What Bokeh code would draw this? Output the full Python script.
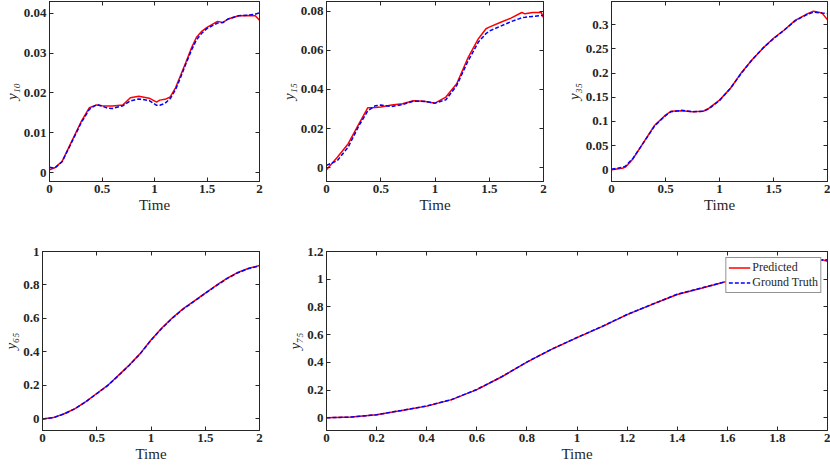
from bokeh.plotting import figure
from bokeh.models import Range1d, FixedTicker, NumeralTickFormatter, LinearAxis, Legend, LegendItem
from bokeh.layouts import row, column
from bokeh.embed import file_html
from bokeh.resources import INLINE

# ---------------- data ----------------
t1 = [0, 0.05, 0.12, 0.2, 0.3, 0.38, 0.45, 0.5, 0.55, 0.6, 0.7, 0.77, 0.85, 0.95, 1.02, 1.05, 1.1, 1.15,
      1.2, 1.25, 1.3, 1.35, 1.4, 1.45, 1.5, 1.6, 1.65, 1.7, 1.8, 1.9, 1.96, 2.0]
pred1 = [0.0007, 0.0012, 0.0028, 0.0072, 0.0127, 0.0163, 0.0170, 0.0168, 0.0167, 0.0167, 0.0170, 0.0188,
         0.0192, 0.0187, 0.0177, 0.0182, 0.0184, 0.0190, 0.0213, 0.0245, 0.0278, 0.0312, 0.0340, 0.0355,
         0.0365, 0.0380, 0.0377, 0.0386, 0.0394, 0.0395, 0.0394, 0.0383]
truth1 = [0.0013, 0.0011, 0.0027, 0.0070, 0.0124, 0.0159, 0.0171, 0.0167, 0.0162, 0.0161, 0.0168, 0.0180,
          0.0185, 0.0181, 0.0169, 0.0169, 0.0174, 0.0186, 0.0208, 0.0240, 0.0274, 0.0306, 0.0334, 0.0350,
          0.0362, 0.0376, 0.0377, 0.0386, 0.0394, 0.0396, 0.0398, 0.0402]

t2 = [0, 0.1, 0.2, 0.3, 0.38, 0.45, 0.5, 0.6, 0.7, 0.8, 0.9, 1.0, 1.1, 1.2, 1.3, 1.4, 1.47, 1.5, 1.6,
      1.7, 1.8, 1.83, 1.9, 1.98, 2.0]
pred2 = [-0.0010, 0.0054, 0.0123, 0.0225, 0.0306, 0.0308, 0.0310, 0.0320, 0.0327, 0.0342, 0.0340, 0.0330,
         0.0361, 0.0429, 0.0557, 0.0659, 0.0710, 0.0718, 0.0742, 0.0764, 0.0793, 0.0786, 0.0793, 0.0793,
         0.0766]
truth2 = [0.0012, 0.0037, 0.0106, 0.0216, 0.0290, 0.0317, 0.0320, 0.0313, 0.0323, 0.0340, 0.0339, 0.0330,
          0.0347, 0.0420, 0.0540, 0.0642, 0.0685, 0.0698, 0.0722, 0.0746, 0.0766, 0.0768, 0.0773, 0.0777,
          0.0778]

t3 = [0, 0.1, 0.13, 0.2, 0.3, 0.4, 0.5, 0.55, 0.65, 0.75, 0.85, 0.9, 1.0, 1.1, 1.2, 1.3, 1.4, 1.5, 1.6,
      1.7, 1.8, 1.87, 1.95, 2.0]
pred3 = [0.0, 0.003, 0.0055, 0.023, 0.0575, 0.092, 0.113, 0.121, 0.122, 0.120, 0.121, 0.127, 0.144,
         0.168, 0.200, 0.227, 0.251, 0.272, 0.289, 0.309, 0.321, 0.328, 0.324, 0.310]
truth3 = [0.001, 0.005, 0.0076, 0.024, 0.057, 0.091, 0.112, 0.120, 0.123, 0.120, 0.121, 0.126, 0.143,
          0.168, 0.199, 0.227, 0.251, 0.271, 0.289, 0.308, 0.320, 0.326, 0.324, 0.323]

t4 = [0, 0.1, 0.2, 0.3, 0.4, 0.5, 0.6, 0.7, 0.8, 0.9, 1.0, 1.1, 1.2, 1.3, 1.4, 1.5, 1.6, 1.7, 1.8, 1.9, 2.0]
pred4 = [0.0, 0.008, 0.031, 0.062, 0.104, 0.152, 0.200, 0.260, 0.322, 0.390, 0.472, 0.543, 0.606, 0.660,
         0.705, 0.752, 0.797, 0.840, 0.875, 0.900, 0.916]
truth4 = [0.0, 0.007, 0.030, 0.061, 0.103, 0.151, 0.199, 0.259, 0.321, 0.389, 0.470, 0.541, 0.604, 0.658,
          0.703, 0.750, 0.795, 0.838, 0.873, 0.898, 0.914]

t5 = [0, 0.1, 0.2, 0.3, 0.4, 0.5, 0.6, 0.7, 0.8, 0.9, 1.0, 1.1, 1.2, 1.3, 1.4, 1.5, 1.6, 1.7, 1.8, 1.9, 1.98, 2.0]
pred5 = [0.0, 0.005, 0.022, 0.053, 0.084, 0.131, 0.203, 0.296, 0.401, 0.495, 0.578, 0.658, 0.744, 0.818,
         0.890, 0.937, 0.985, 1.030, 1.070, 1.110, 1.140, 1.130]
truth5 = [0.0, 0.005, 0.022, 0.053, 0.085, 0.132, 0.204, 0.297, 0.402, 0.496, 0.579, 0.659, 0.745, 0.819,
          0.891, 0.938, 0.986, 1.031, 1.071, 1.111, 1.138, 1.140]

xticks_short = [0, 0.5, 1, 1.5, 2]
xticks_long = [0, 0.2, 0.4, 0.6, 0.8, 1, 1.2, 1.4, 1.6, 1.8, 2]
yticks1 = [0, 0.01, 0.02, 0.03, 0.04]
yticks2 = [0, 0.02, 0.04, 0.06, 0.08]
yticks3 = [0, 0.05, 0.1, 0.15, 0.2, 0.25, 0.3]
yticks4 = [0, 0.2, 0.4, 0.6, 0.8, 1]
yticks5 = [0, 0.2, 0.4, 0.6, 0.8, 1, 1.2]

ylabels = ["y\u2081\u2080", "y\u2081\u2085", "y\u2083\u2085", "y\u2086\u2085", "y\u2087\u2085"]
xlabel = "Time"
series_names = ["Predicted", "Ground Truth"]

# ---------------- style ----------------
AX = "#262626"
FONT = "Liberation Serif"


def style_main_axis(ax, ticks, label):
    ax.ticker = FixedTicker(ticks=ticks)
    ax.formatter = NumeralTickFormatter(format="0.[00]")
    ax.major_label_text_font = FONT
    ax.major_label_text_font_style = "bold"
    ax.major_label_text_font_size = "13px"
    ax.major_label_text_color = AX
    ax.axis_label = label
    ax.axis_label_text_font = FONT
    ax.axis_label_text_font_size = "15px"
    ax.axis_label_text_color = AX
    ax.axis_label_standoff = 1
    ax.major_label_standoff = 3
    ax.major_tick_in = 4
    ax.major_tick_out = 0
    ax.minor_tick_in = 0
    ax.minor_tick_out = 0
    ax.axis_line_color = AX
    ax.major_tick_line_color = AX


def mirror_axis(ticks):
    return LinearAxis(ticker=FixedTicker(ticks=ticks),
                      major_label_text_font_size="0px", major_label_text_color=None,
                      major_label_standoff=0, major_tick_in=4, major_tick_out=0,
                      minor_tick_in=0, minor_tick_out=0,
                      axis_line_color=AX, major_tick_line_color=AX)


def make(t, pred, truth, ylabel, xticks, yticks, yr, width, height, mbl, mbr, mbt, mbb, legend=False):
    p = figure(width=width, height=height, x_range=Range1d(0, 2), y_range=Range1d(*yr),
               output_backend="svg", toolbar_location=None,
               min_border_left=mbl, min_border_right=mbr, min_border_top=mbt, min_border_bottom=mbb)
    p.grid.visible = False
    p.outline_line_color = AX
    p.outline_line_alpha = 1
    p.background_fill_color = "white"
    p.border_fill_color = "white"
    style_main_axis(p.xaxis[0], xticks, xlabel)
    style_main_axis(p.yaxis[0], yticks, ylabel)
    p.yaxis[0].axis_label_text_font_style = "italic"
    p.xaxis[0].axis_label_text_font_style = "normal"
    p.add_layout(mirror_axis(xticks), "above")
    p.add_layout(mirror_axis(yticks), "right")
    r1 = p.line(t, pred, line_color="#ff0000", line_width=1.5)
    r2 = p.line(t, truth, line_color="#0000ff", line_width=1.5, line_dash="4 2")
    if legend:
        lg = Legend(items=[LegendItem(label=series_names[0], renderers=[r1]),
                           LegendItem(label=series_names[1], renderers=[r2])],
                    location="top_right")
        lg.border_line_color = AX
        lg.border_line_width = 1
        lg.background_fill_color = "white"
        lg.background_fill_alpha = 1
        lg.label_text_font = FONT
        lg.label_text_font_size = "12px"
        lg.label_text_color = AX
        lg.padding = 2
        lg.spacing = 0
        lg.margin = 6
        lg.glyph_width = 22
        lg.glyph_height = 13
        lg.label_height = 13
        lg.label_standoff = 2
        p.add_layout(lg)
    return p


TOP_H = 226
BOT_H = 240

f1 = make(t1, pred1, truth1, ylabels[0], xticks_short, yticks1, (-0.00226, 0.0430),
          269, TOP_H, 0, 10, 1, 45)
f2 = make(t2, pred2, truth2, ylabels[1], xticks_short, yticks2, (-0.0070, 0.0849),
          284, TOP_H, 57, 10, 1, 45)
f3 = make(t3, pred3, truth3, ylabels[2], xticks_short, yticks3, (-0.0243, 0.348),
          277, TOP_H, 58, 3, 1, 45)
f4 = make(t4, pred4, truth4, ylabels[3], xticks_short, yticks4, (-0.069, 1.0),
          269, BOT_H, 0, 10, 25, 36)
f5 = make(t5, pred5, truth5, ylabels[4], xticks_long, yticks5, (-0.092, 1.2),
          561, BOT_H, 57, 3, 25, 36, legend=True)

layout = column(row(f1, f2, f3), row(f4, f5))

with open("out.html", "w") as fh:
    fh.write(file_html(layout, INLINE))
